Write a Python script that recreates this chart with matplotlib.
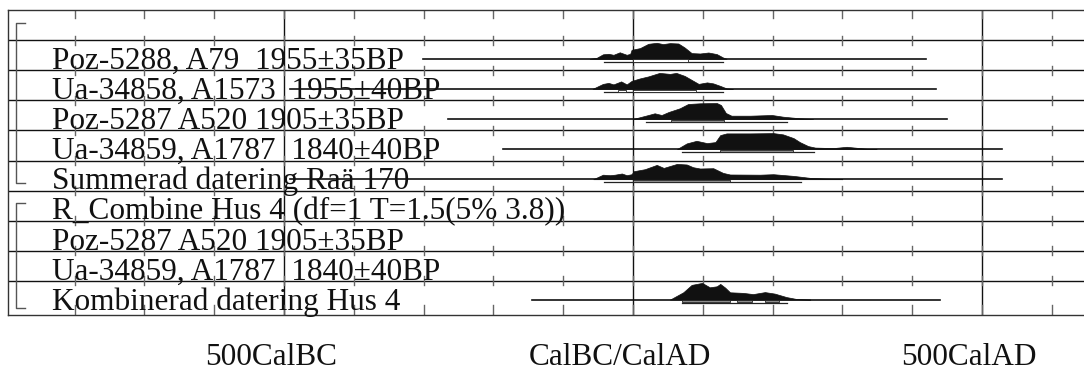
import matplotlib.pyplot as plt
import matplotlib.transforms as mtransforms

# ---------------- data ----------------
# Row labels, top to bottom (row 0 is the empty header row)
labels = [
    "Poz-5288, A79  1955±35BP",
    "Ua-34858, A1573  1955±40BP",
    "Poz-5287 A520 1905±35BP",
    "Ua-34859, A1787  1840±40BP",
    "Summerad datering Raä 170",
    "R_Combine Hus 4 (df=1 T=1.5(5% 3.8))",
    "Poz-5287 A520 1905±35BP",
    "Ua-34859, A1787  1840±40BP",
    "Kombinerad datering Hus 4",
]

# Axis labels under the plot
axis_years = [-500, 0, 500]
axis_labels = ["500CalBC", "CalBC/CalAD", "500CalAD"]
tick_years = [-800, -700, -600, -500, -400, -300, -200, -100, 0, 100, 200, 300, 400, 500, 600]

# Probability distributions (calendar year, relative probability)
poz5288_yr = [-62, -52, -43, -35, -28, -19, -9, -4, -2, 10, 22, 34, 43, 53, 65, 74, 84, 96, 108, 120, 129, 134]
poz5288_p = [0, 1, 4.5, 5, 4, 6.5, 4, 5, 9, 10.7, 15, 16, 14.7, 15.7, 15.3, 11.3, 5.7, 5.3, 6.3, 4.7, 1.3, 0]

ua34858_yr = [-58, -43, -35, -28, -17, -9, -2, 10, 22, 38, 53, 62, 74, 84, 94, 106, 115, 125, 134, 143]
ua34858_p = [0, 5, 6, 4.5, 7.5, 4.5, 8, 10.5, 12.5, 16, 15, 16, 13, 9, 5, 6.5, 5.5, 3, 0.5, 0]

poz5287_yr = [0, 22, 31, 41, 51, 67, 79, 96, 120, 126, 133, 141, 168, 199, 215, 239, 258]
poz5287_p = [0, 4, 5.7, 4, 7, 10.7, 15, 15.7, 16, 14, 6, 3.3, 3.3, 4, 2.3, 0.7, 0]

ua34859_yr = [63, 77, 91, 106, 118, 125, 134, 168, 201, 215, 230, 239, 251, 261, 287, 306, 325, 335, 349]
ua34859_p = [0, 5.7, 8.3, 6, 7, 14, 15.7, 15.7, 16, 14.7, 11, 7, 3, 1.5, 1, 2.3, 1, 0.3, 0]

summed_yr = [-57, -43, -33, -26, -16, -9, -2, 1, 17, 34, 44, 63, 77, 86, 96, 115, 129, 139, 182, 201, 230, 254, 278, 300]
summed_p = [0, 4.5, 4, 4.5, 5.7, 4, 5, 8, 10, 14.3, 11.3, 15.3, 14.7, 12, 10.7, 11, 6.3, 4.7, 4.5, 5, 3.3, 1.3, 0.5, 0]

combined_yr = [53, 72, 84, 99, 110, 120, 125, 132, 139, 158, 172, 189, 203, 220, 235, 254]
combined_p = [0, 7.3, 14.7, 16.7, 12.3, 13.3, 15.7, 12, 7.3, 6.7, 5.5, 7.5, 6, 2.5, 0.5, 0]

# Which row each distribution sits in, and how far its base line runs
dist_rows = [1, 2, 3, 4, 5, 9]
dist_years = [poz5288_yr, ua34858_yr, poz5287_yr, ua34859_yr, summed_yr, combined_yr]
dist_probs = [poz5288_p, ua34858_p, poz5287_p, ua34859_p, summed_p, combined_p]
line_start = [-301, -491, -265, -186, -491, -145]
line_end = [420, 434, 450, 529, 529, 440]

# Highest density ranges: 95.4% and 68.2%
range95 = [[(-41, 129)], [(-41, 129)], [(19, 220)], [(70, 259)], [(-41, 240)], [(70, 220)]]
range68 = [[(0, 79)], [(-21, -10), (0, 90)], [(54, 130)], [(124, 229)], [(0, 139)],
           [(70, 139), (149, 170), (189, 209)]]
range68_color = ["white", "white", "#8c8c8c", "#8c8c8c", "#8c8c8c", "#8c8c8c"]

# Group brackets on the left (top, bottom in row units)
brackets = [(0.42, 5.75), (6.41, 9.9)]

# ---------------- figure ----------------
W, H = 1084, 374
fig = plt.figure(figsize=(W / 100, H / 100), dpi=100)
ax = fig.add_axes([8 / W, (H - 315) / H, 1082 / W, 305 / H])

px_per_year = 0.698
ax.set_xlim(-625 / px_per_year, 457 / px_per_year)
ax.set_ylim(305 / 30.1, 0)
ax.set_xticks([])
ax.set_yticks([])
for side in ["top", "left", "bottom"]:
    ax.spines[side].set_color("#333333")
    ax.spines[side].set_linewidth(1.0)
ax.spines["right"].set_visible(False)

row_h = 30.1  # pixels per row, used for converting pixel sizes to row units
y_bottom = 305 / row_h

# Horizontal row separators
for r in range(1, 10):
    ax.axhline(r, color="#111111", linewidth=1.0, zorder=1)

# Major vertical lines
for yr in axis_years:
    ax.axvline(yr, color="#111111", linewidth=1.0, zorder=1)

# Small tick marks every 100 years on each row line
for yr in tick_years:
    ax.plot([yr, yr], [0, 8 / row_h], color="#666666", linewidth=1.0, zorder=1)
    for r in range(1, 10):
        ax.plot([yr, yr], [r - 4.5 / row_h, r + 4.5 / row_h], color="#666666", linewidth=1.0, zorder=1)
    ax.plot([yr, yr], [y_bottom - 10 / row_h, y_bottom], color="#666666", linewidth=1.0, zorder=1)

# Brackets
bx0 = -617 / px_per_year
bx1 = -608 / px_per_year
for top, bot in brackets:
    ax.plot([bx1, bx0, bx0, bx1], [top, top, bot, bot], color="#555555", linewidth=1.0)

# Labels
label_x = -581 / px_per_year
for i, lab in enumerate(labels):
    ax.text(label_x, i + 1 + 0.96, lab, fontsize=22.5, family="Liberation Serif",
            va="baseline", ha="left", color="#111111", zorder=3)

# Distributions with base lines and range bars
for i, r in enumerate(dist_rows):
    base = r + 18.7 / row_h
    top_vals = [base - p / row_h for p in dist_probs[i]]
    ax.plot([line_start[i], line_end[i]], [base, base], color="#111111", linewidth=1.2, zorder=4)
    ax.fill_between(dist_years[i], base, top_vals, color="#111111", linewidth=0.5, zorder=4)
    for a, b in range95[i]:
        ax.plot([a, b], [base + 3.3 / row_h] * 2, color="#222222", linewidth=0.9, zorder=4)
    for a, b in range68[i]:
        ax.add_patch(plt.Rectangle((a, base + 0.6 / row_h), b - a, 2.2 / row_h,
                                   facecolor=range68_color[i], edgecolor="#222222",
                                   linewidth=0.6, zorder=5))

# Calendar axis labels below the plot
label_trans = mtransforms.offset_copy(
    mtransforms.blended_transform_factory(ax.transData, ax.transAxes),
    fig=fig, x=-13, y=0, units="dots")
for yr, lab in zip(axis_years, axis_labels):
    ax.text(yr, -50 / 305, lab, transform=label_trans, fontsize=22.5,
            family="Liberation Serif", ha="center", va="baseline", color="#111111")

fig.savefig("out.png", dpi=100)
